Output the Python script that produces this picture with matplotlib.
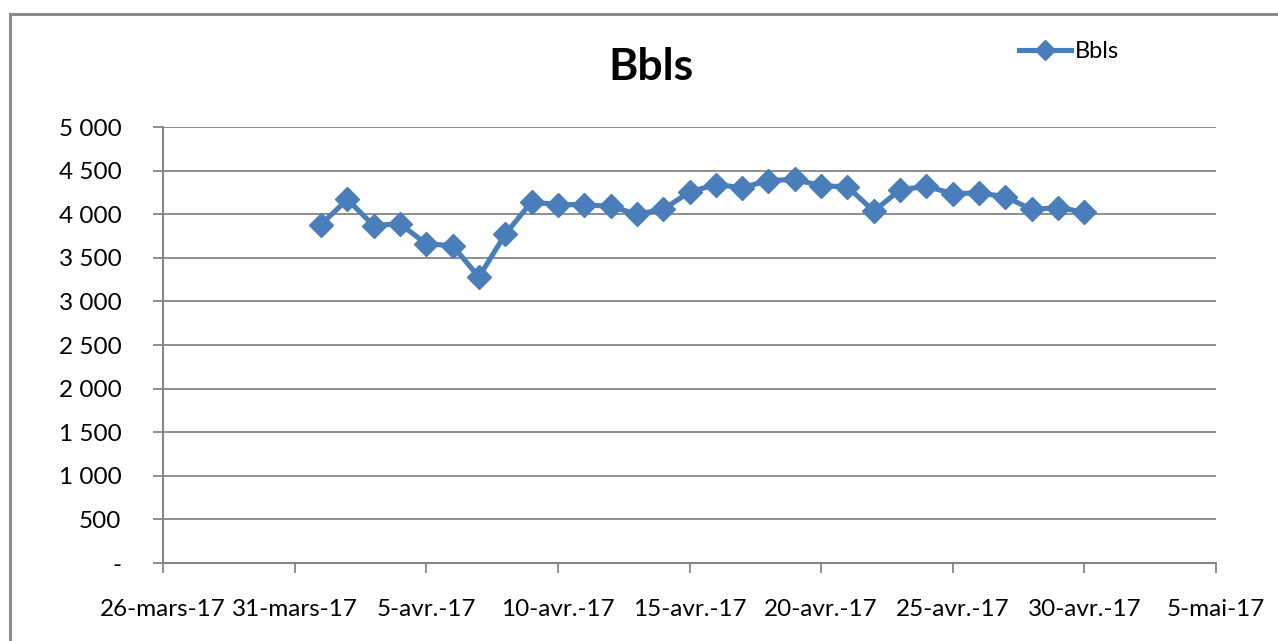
import matplotlib
matplotlib.use("Agg")
import matplotlib.pyplot as plt
from matplotlib.patches import Rectangle
import datetime as dt

plt.rcParams['font.family'] = ['Lato', 'DejaVu Sans']

# Data
dates = [dt.date(2017, 4, d) for d in range(1, 31)]
bbls = [3880, 4170, 3870, 3890, 3660, 3640, 3280, 3770, 4140, 4110,
        4110, 4090, 4000, 4055, 4255, 4340, 4305, 4385, 4400, 4325,
        4315, 4035, 4280, 4320, 4235, 4245, 4200, 4055, 4075, 4025]
series_name = "Bbls"
x_ticks = [dt.date(2017, 3, 26), dt.date(2017, 3, 31), dt.date(2017, 4, 5),
           dt.date(2017, 4, 10), dt.date(2017, 4, 15), dt.date(2017, 4, 20),
           dt.date(2017, 4, 25), dt.date(2017, 4, 30), dt.date(2017, 5, 5)]
x_labels = ["26-mars-17", "31-mars-17", "5-avr.-17", "10-avr.-17", "15-avr.-17",
            "20-avr.-17", "25-avr.-17", "30-avr.-17", "5-mai-17"]
y_ticks = [0, 500, 1000, 1500, 2000, 2500, 3000, 3500, 4000, 4500, 5000]
y_labels = ["-", "500", "1 000", "1 500", "2 000", "2 500", "3 000",
            "3 500", "4 000", "4 500", "5 000"]

W, H = 1278, 641
fig = plt.figure(figsize=(W / 100, H / 100), dpi=100)
ax = fig.add_axes([163 / W, 1 - 563 / H, (1216 - 163) / W, (563 - 127) / H])

blue = "#4A7EBB"
grid_c = "#868686"

ax.plot(dates, bbls, color=blue, lw=3.7, marker="D", ms=12.5,
        markerfacecolor=blue, markeredgecolor=blue, label=series_name,
        solid_joinstyle="round", zorder=3)

ax.set_xlim(x_ticks[0], x_ticks[-1])
ax.set_ylim(0, 5000)
ax.set_xticks(x_ticks)
ax.set_xticklabels(x_labels)
ax.set_yticks(y_ticks)
ax.set_yticklabels(y_labels)

ax.grid(axis="y", color=grid_c, lw=1.3)
ax.set_axisbelow(True)
for s in ["top", "right"]:
    ax.spines[s].set_visible(False)
for s in ["left", "bottom"]:
    ax.spines[s].set_color(grid_c)
    ax.spines[s].set_linewidth(1.5)
ax.tick_params(axis="x", direction="out", length=7, width=1.3, color=grid_c,
               pad=19, labelsize=17.5)
ax.tick_params(axis="y", direction="out", length=7, width=1.3, color=grid_c,
               pad=23, labelsize=17.5)

fig.text(651 / W, 1 - 67 / H, "Bbls", ha="center", va="center",
         fontsize=32, fontweight="bold")

leg = ax.legend(loc="center left", bbox_to_anchor=(1019 / W, 1 - 52 / H),
                bbox_transform=fig.transFigure, frameon=False, fontsize=17,
                handlelength=2.2, handletextpad=0.15, borderpad=0,
                borderaxespad=0, markerscale=0.85)

fig.patches.append(Rectangle((10 / W, -0.05), 1.2, 1 - 14 / H + 0.05,
                             transform=fig.transFigure, fill=False,
                             edgecolor="#8C8C8C", lw=2.2))

fig.savefig("out.png", dpi=100, facecolor="white")
